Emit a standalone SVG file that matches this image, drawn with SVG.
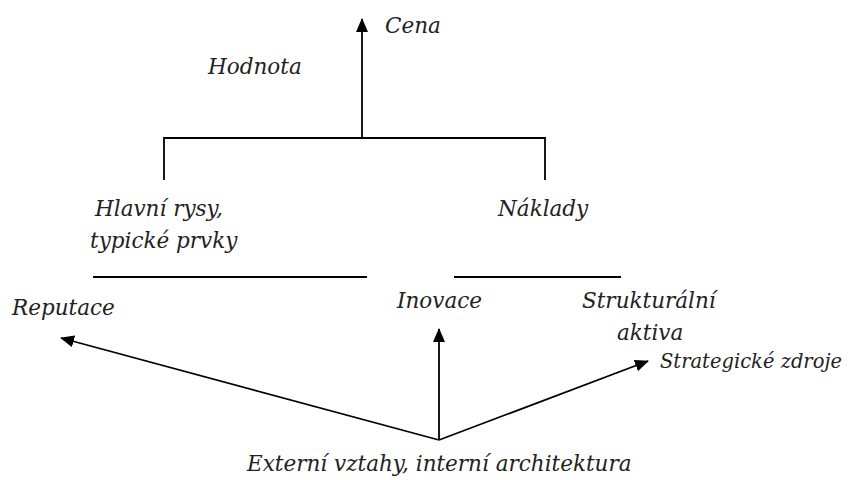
<svg xmlns="http://www.w3.org/2000/svg" width="853" height="480" viewBox="0 0 853 480">
<style>
text{font-family:"DejaVu Serif","Liberation Serif",serif;font-style:italic;font-size:21.5px;fill:#222}
.ln{stroke:#000;stroke-width:1.8;fill:none}
</style>
<defs>
<marker id="ah" viewBox="0 0 14 12" refX="13" refY="6" markerWidth="14" markerHeight="12" markerUnits="userSpaceOnUse" orient="auto">
<path d="M0,0 L14,6 L0,12 z" fill="#000"/>
</marker>
</defs>
<rect width="853" height="480" fill="#fff"/>
<g id="connectors">
<path class="ln" d="M362,138 V19" marker-end="url(#ah)"/>
<path class="ln" d="M164,180 V138 H545 V180"/>
<path class="ln" d="M93,277 H367"/>
<path class="ln" d="M454,277 H621"/>
<path class="ln" d="M439,440 V329" marker-end="url(#ah)"/>
<path class="ln" d="M439,440 L61,338" marker-end="url(#ah)"/>
<path class="ln" d="M439,440 L648,361" marker-end="url(#ah)"/>
</g>
<g id="cena"><text x="385" y="33">Cena</text></g>
<g id="hodnota"><text x="208" y="74">Hodnota</text></g>
<g id="hlavni"><text x="95" y="216">Hlavní rysy,</text><text x="90" y="248">typické prvky</text></g>
<g id="naklady"><text x="498" y="216">Náklady</text></g>
<g id="reputace"><text x="12" y="315">Reputace</text></g>
<g id="inovace"><text x="397" y="308">Inovace</text></g>
<g id="strukturalni"><text x="582" y="308">Strukturální</text><text x="617" y="340">aktiva</text></g>
<g id="strategicke"><text x="660" y="368" style="font-size:19.5px" textLength="182" lengthAdjust="spacingAndGlyphs">Strategické zdroje</text></g>
<g id="externi"><text x="247" y="471">Externí vztahy, interní architektura</text></g>
</svg>
